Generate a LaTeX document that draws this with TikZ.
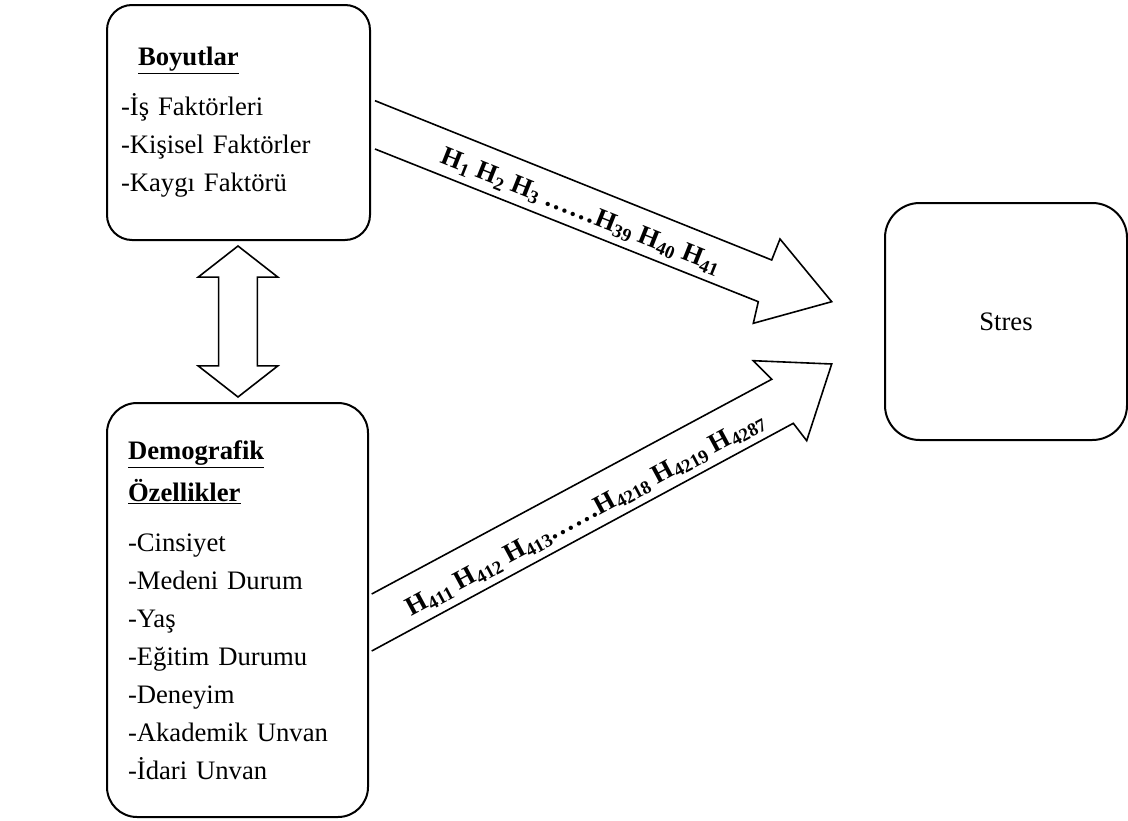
\documentclass[tikz,border=0pt]{standalone}
\usepackage{fontspec}
\setmainfont{Liberation Serif}
\usetikzlibrary{calc,shapes.arrows}

\begin{document}
\begin{tikzpicture}[
    x=0.75pt, y=-0.75pt,
    box/.style={draw, line width=1.5pt, fill=white, align=left, inner ysep=0pt,
      font=\fontsize{20}{28.5}\selectfont},
    blockarr/.style={draw, line width=1.2pt, fill=white, line join=miter},
    linkarr/.style={draw, line width=1.2pt, fill=white, double arrow,
      inner xsep=0pt, minimum width=0pt},
    hlbl/.style={font=\fontsize{20}{22}\selectfont\bfseries, inner sep=0pt}
  ]
  \useasboundingbox (0,0) rectangle (1128,821);

  \node[box, rounded corners=18.75pt, minimum width=197.25pt,
    minimum height=176.25pt, text width=176.25pt, inner xsep=10.5pt]
    (boy) at (238.5,122.5)
    {\hspace{12.75pt}\underline{\textbf{Boyutlar}}\\[9pt]
     -İş Faktörleri\\
     -Kişisel Faktörler\\
     -Kaygı Faktörü};
  \node[box, rounded corners=22.5pt, minimum width=195.75pt,
    minimum height=310.5pt, text width=164.25pt, inner xsep=15.75pt]
    (dem) at (237.5,610)
    {\underline{\textbf{Demografik}}\\[3pt]
     \underline{\textbf{Özellikler}}\\[9pt]
     -Cinsiyet\\
     -Medeni Durum\\
     -Yaş\\
     -Eğitim Durumu\\
     -Deneyim\\
     -Akademik Unvan\\
     -İdari Unvan};
  \node[box, align=center, rounded corners=26pt, minimum width=181.5pt,
    minimum height=177.75pt] (str) at (1006,321.5) {Stres};

  \node[linkarr, minimum height=113.25pt, inner ysep=13.9pt,
    double arrow head extend=15.4pt, double arrow tip angle=104,
    rotate=90] (link) at ($(boy.south)!0.5!(dem.north)$) {};

  % block arrows boy -> str and dem -> str
  \coordinate (upTip) at (831.7,301.7);
  \coordinate (lowTip) at (831.7,364);
  \draw[blockarr] (375,100.7) -- (771.7,260) -- (780,239) -- (upTip)
    -- (753.3,323.3) -- (758.3,301.7) -- (375,149);
  \draw[blockarr] (371.7,594) -- (771.7,379.3) -- (753.3,360.7) -- (lowTip)
    -- (806.7,440.7) -- (793.3,423.3) -- (371.7,651);

  \node[hlbl, rotate=-21.8] (upL) at (581,212)
    {H\textsubscript{1} H\textsubscript{2} H\textsubscript{3} ……H\textsubscript{39} H\textsubscript{40} H\textsubscript{41}};
  \node[hlbl, rotate=28.3] (lowL) at (586,515)
    {H\textsubscript{411} H\textsubscript{412} H\textsubscript{413}……H\textsubscript{4218} H\textsubscript{4219} H\textsubscript{4287}};
\end{tikzpicture}
\end{document}
